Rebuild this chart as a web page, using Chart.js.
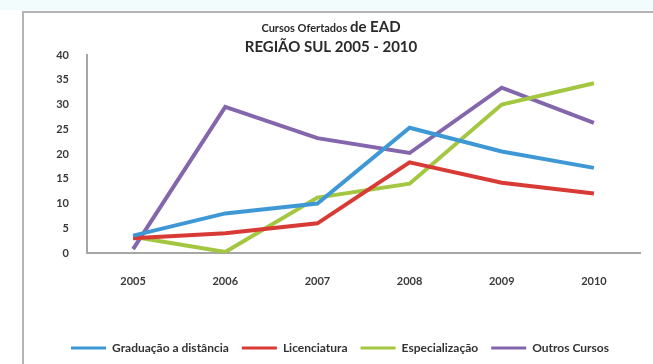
<!DOCTYPE html>
<html lang="pt">
<head>
<meta charset="UTF-8">
<title>Cursos Ofertados de EAD - Região Sul 2005 - 2010</title>
<script src="https://cdn.jsdelivr.net/npm/chart.js"></script>
<style>
  html, body { margin: 0; padding: 0; background: #ffffff; }
  #wrap { position: relative; width: 653px; height: 364px; background: #ffffff; }
  #wrap:before { content: ""; position: absolute; left: 0; top: 0; width: 653px; height: 10px; background: #f2fcfc; }
  #frame { position: absolute; left: 22px; top: 11px; width: 640px; height: 360px; border-left: 2px solid #b4b4b4; border-top: 2px solid #b4b4b4; }
  canvas { position: absolute; left: 0; top: 0; }
</style>
</head>
<body>
<div id="wrap">
  <div id="frame"></div>
  <canvas id="chart" width="653" height="364"></canvas>
</div>
<script>
const anos = ['2005', '2006', '2007', '2008', '2009', '2010'];
const graduacao = [3.5, 8, 10, 25.3, 20.5, 17.2];
const licenciatura = [3, 4, 6, 18.3, 14.2, 12];
const especializacao = [3.3, 0.2, 11.2, 14, 30, 34.3];
const outrosCursos = [0.8, 29.5, 23.2, 20.2, 33.4, 26.3];

const FONT = 'Lato, "Open Sans", sans-serif';

// two-line heading; the first line mixes a small and a larger run of text
const heading = {
  id: 'heading',
  afterDraw(chart) {
    const ctx = chart.ctx;
    const cx = 331;
    const small = 'bold 11px ' + FONT;
    const big = 'bold 15px ' + FONT;
    ctx.save();
    ctx.fillStyle = '#2a2a2a';
    ctx.textBaseline = 'alphabetic';
    ctx.textAlign = 'left';
    const a = 'Cursos Ofertados ';
    const b = 'de EAD';
    ctx.font = small;
    const wa = ctx.measureText(a).width;
    ctx.font = big;
    const wb = ctx.measureText(b).width;
    const x = cx - (wa + wb) / 2;
    ctx.font = small;
    ctx.fillText(a, x, 32);
    ctx.font = big;
    ctx.fillText(b, x + wa, 32);
    ctx.textAlign = 'center';
    ctx.fillText('REGIÃO SUL 2005 - 2010', cx, 52);
    ctx.restore();
  }
};

const serie = (label, data, color) => ({
  label, data,
  borderColor: color,
  backgroundColor: color,
  borderWidth: 4,
  pointRadius: 0,
  tension: 0,
  fill: false
});

new Chart(document.getElementById('chart'), {
  type: 'line',
  data: {
    labels: anos,
    datasets: [
      serie('Graduação a distância', graduacao, '#3f98d6'),
      serie('Licenciatura', licenciatura, '#d83b36'),
      serie('Especialização', especializacao, '#a3c740'),
      serie('Outros Cursos', outrosCursos, '#8366ab')
    ]
  },
  options: {
    responsive: false,
    animation: false,
    layout: { padding: { left: 40, right: 13, top: 55, bottom: 0 } },
    plugins: {
      title: { display: false },
      tooltip: { enabled: false },
      legend: {
        position: 'bottom',
        labels: {
          usePointStyle: true,
          pointStyle: 'line',
          pointStyleWidth: 35,
          padding: 13,
          color: '#333',
          font: { family: FONT, size: 12, weight: 'bold' },
          generateLabels(chart) {
            const items = Chart.defaults.plugins.legend.labels.generateLabels(chart);
            items.forEach(it => { it.lineWidth = 3; });
            return items;
          }
        }
      }
    },
    scales: {
      x: {
        offset: true,
        afterFit(s) { s.height = 76; },
        grid: { display: false, drawTicks: false },
        border: { display: true, color: '#a6a6a6', width: 2 },
        ticks: { padding: 22, color: '#3a3a3a', font: { family: FONT, size: 11, weight: 'bold' } }
      },
      y: {
        min: 0, max: 40,
        afterFit(s) { s.width = 47; },
        grid: { display: false, drawTicks: false },
        border: { display: true, color: '#a6a6a6', width: 2 },
        ticks: { stepSize: 5, padding: 18, color: '#3a3a3a', font: { family: FONT, size: 11, weight: 'bold' } }
      }
    }
  },
  plugins: [heading]
});
</script>
</body>
</html>
